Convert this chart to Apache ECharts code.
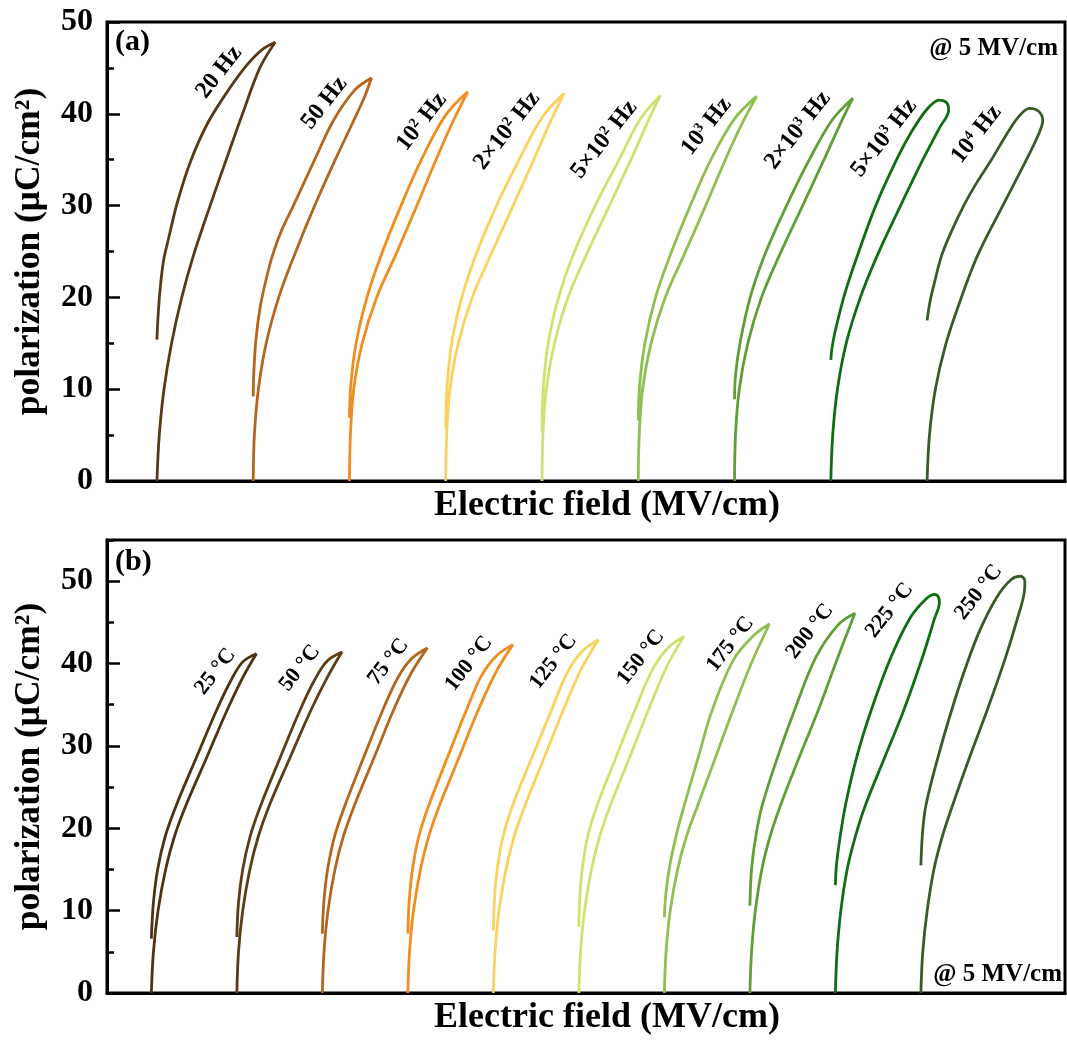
<!DOCTYPE html>
<html>
<head>
    <meta charset="UTF-8">
    <title>P-E loops</title>
    <style>
        html, body {
            margin: 0;
            padding: 0;
            background: #fff;
        }
        #main {
            width: 1067px;
            height: 1048px;
        }
    </style>
    <script src="https://cdn.jsdelivr.net/npm/echarts@6/dist/echarts.min.js"></script>
</head>
<body>
<div id="main"></div>
<script type="text/javascript">
    // loops: [E (MV/cm), P (uC/cm2)], charging branch up to the tip, then back down to Pr
    // (a) frequency, @ 5 MV/cm
    var f20 = [[0, 0], [0.1, 5], [0.3, 10], [0.62, 15], [1.05, 20], [1.55, 24.6], [2.25, 30], [2.93, 35], [3.62, 40], [4.35, 45], [5.0, 47.8],
        [4.45, 47.0], [3.8, 45.3], [3.0, 42.5], [2.15, 39], [1.45, 35], [0.88, 30.5], [0.5, 26.5], [0.28, 24], [0.14, 21], [0.05, 18], [0, 15.4]];
    var f50 = [[0, 0], [0.05, 5], [0.22, 10], [0.55, 15], [1.08, 20], [1.74, 24.6], [2.6, 30], [3.47, 35], [4.2, 39], [4.7, 41.8], [5.0, 43.9],
        [4.3, 42.6], [3.4, 39.3], [2.6, 35], [1.7, 30], [1.2, 27.3], [0.82, 24.6], [0.55, 22], [0.3, 19], [0.12, 15.5], [0.03, 12], [0, 9.2]];
    var f1e2 = [[0, 0], [0.04, 5], [0.18, 10], [0.54, 15], [1.15, 20], [1.95, 24.6], [2.85, 30], [3.66, 35], [4.4, 39.3], [5.0, 42.4],
        [4.05, 39.8], [3.04, 35], [2.18, 30], [1.34, 24.6], [0.74, 20], [0.28, 15], [0.06, 10.5], [0, 6.9]];
    var f2e2 = [[0, 0], [0.04, 5], [0.18, 10], [0.53, 15], [1.12, 20], [1.9, 24.6], [2.85, 30], [3.72, 35], [4.4, 39], [5.0, 42.2],
        [4.1, 39.7], [3.1, 35], [2.15, 30], [1.27, 24.6], [0.68, 20], [0.25, 15], [0.05, 10], [0, 5.7]];
    var f5e2 = [[0, 0], [0.04, 5], [0.18, 10], [0.53, 15], [1.1, 20], [1.87, 24.6], [2.85, 30], [3.76, 35], [4.45, 39], [5.0, 42.0],
        [4.15, 39.4], [3.26, 35], [2.25, 30], [1.31, 24.6], [0.7, 20], [0.26, 15], [0.05, 10], [0, 5.4]];
    var f1e3 = [[0, 0], [0.04, 5], [0.18, 10], [0.54, 15], [1.14, 20], [1.93, 24.6], [2.85, 30], [3.68, 35], [4.4, 39], [5.0, 41.9],
        [4.05, 39.4], [3.07, 35], [2.2, 30], [1.35, 24.6], [0.73, 20], [0.28, 15], [0.06, 10.5], [0, 6.6]];
    var f2e3 = [[0, 0], [0.04, 5], [0.2, 10], [0.56, 15], [1.14, 20], [1.9, 24.6], [2.88, 30], [3.78, 35], [4.45, 38.8], [5.0, 41.7],
        [4.12, 39.3], [3.16, 35], [2.2, 30], [1.27, 24.6], [0.66, 20], [0.23, 15], [0.04, 11.5], [0, 8.9]];
    var f5e3 = [[0, 0], [0.08, 5], [0.28, 10], [0.65, 15], [1.25, 20], [1.97, 24.6], [2.95, 30], [3.89, 35], [4.6, 38.5], [4.98, 40.4],
        [4.9, 41.2], [4.58, 41.5], [4.1, 40.6], [3.4, 38.0], [2.78, 35], [1.9, 30], [1.13, 24.6], [0.6, 20.5], [0.2, 16.5], [0.05, 14.5], [0, 13.2]];
    var f1e4 = [[0, 0], [0.1, 5], [0.35, 10], [0.8, 15], [1.45, 20], [2.14, 24.6], [3.2, 30], [4.2, 35], [4.75, 38], [4.89, 39.3],
        [4.7, 40.3], [4.33, 40.6], [4.1, 40.3], [3.75, 39.3], [3.3, 37.5], [2.72, 35], [2.1, 32.5], [1.55, 30], [1.05, 27.3], [0.62, 24.6],
        [0.3, 21.5], [0.12, 19.5], [0, 17.5]];

    // (b) temperature, @ 5 MV/cm
    var t25 = [[0, 0], [0.1, 5], [0.32, 10], [0.68, 15], [1.1, 19], [1.65, 22.8], [2.62, 28.5], [3.6, 34.3], [4.35, 38.3], [5.0, 41.2],
        [4.35, 40.2], [3.8, 38.0], [3.1, 34.3], [2.13, 28.5], [1.19, 22.8], [0.66, 19], [0.3, 15], [0.1, 11], [0, 6.6]];
    var t50 = [[0, 0], [0.08, 5], [0.28, 10], [0.62, 15], [1.02, 19], [1.55, 22.8], [2.52, 28.5], [3.52, 34.3], [4.3, 38.3], [5.0, 41.4],
        [4.3, 40.3], [3.7, 38.0], [3.0, 34.3], [2.05, 28.5], [1.14, 22.8], [0.63, 19], [0.28, 15], [0.08, 11], [0, 6.8]];
    var t75 = [[0, 0], [0.08, 5], [0.27, 10], [0.6, 15], [1.0, 19], [1.53, 22.8], [2.45, 28.5], [3.38, 34.3], [4.2, 38.7], [5.0, 41.9],
        [4.25, 40.6], [3.6, 38.3], [2.87, 34.3], [1.95, 28.5], [1.08, 22.8], [0.58, 19], [0.25, 15], [0.07, 11], [0, 7.2]];
    var t100 = [[0, 0], [0.08, 5], [0.27, 10], [0.6, 15], [0.99, 19], [1.51, 22.8], [2.42, 28.5], [3.34, 34.3], [4.2, 39.0], [5.0, 42.3],
        [4.2, 40.9], [3.5, 38.5], [2.78, 34.3], [1.87, 28.5], [1.0, 22.8], [0.52, 19], [0.22, 15], [0.06, 11], [0, 7.2]];
    var t125 = [[0, 0], [0.08, 5], [0.27, 10], [0.6, 15], [0.99, 19], [1.51, 22.8], [2.41, 28.5], [3.32, 34.3], [4.2, 39.4], [5.0, 42.9],
        [4.2, 41.4], [3.5, 38.8], [2.76, 34.3], [1.82, 28.5], [0.92, 22.8], [0.46, 19], [0.18, 15], [0.05, 11.2], [0, 7.6]];
    var t150 = [[0, 0], [0.08, 5], [0.27, 10], [0.6, 15], [0.99, 19], [1.5, 22.8], [2.4, 28.5], [3.3, 34.3], [4.2, 39.7], [5.0, 43.3],
        [4.2, 41.8], [3.45, 39.0], [2.66, 34.3], [1.75, 28.5], [0.87, 22.8], [0.42, 19], [0.16, 15], [0.04, 11.5], [0, 8.0]];
    var t175 = [[0, 0], [0.08, 5], [0.28, 10], [0.63, 15], [1.05, 19], [1.59, 22.8], [2.42, 28.5], [3.26, 34.3], [4.1, 39.8], [5.0, 44.8],
        [4.25, 43.4], [3.3, 40.5], [2.27, 34.3], [1.6, 28.5], [0.95, 22.8], [0.6, 19.5], [0.26, 15.5], [0.07, 12], [0, 9.2]];
    var t200 = [[0, 0], [0.08, 5], [0.26, 10], [0.57, 15], [0.96, 19], [1.46, 22.8], [2.33, 28.5], [3.25, 34.3], [4.15, 40.5], [5.0, 46.1],
        [4.2, 44.7], [3.15, 40.8], [2.12, 34.3], [1.3, 28.5], [0.59, 22.8], [0.28, 19], [0.08, 15], [0, 10.6]];
    var t225 = [[0, 0], [0.08, 5], [0.26, 10], [0.56, 15], [0.95, 19], [1.43, 22.8], [2.33, 28.5], [3.25, 34.3], [4.15, 40.8], [4.7, 45.3],
        [4.95, 47.4], [4.9, 48.1], [4.72, 48.4], [4.3, 47.8], [3.55, 45.5], [2.6, 40.5], [1.7, 34.3], [1.0, 28.5], [0.48, 22.8], [0.2, 18.5], [0.05, 15.5], [0, 13.1]];
    var t250 = [[0, 0], [0.09, 5], [0.3, 10], [0.62, 15], [1.02, 19], [1.51, 22.8], [2.3, 28.5], [3.15, 34.3], [4.0, 40.5], [4.6, 45.5],
        [4.93, 48.8], [4.95, 50.0], [4.75, 50.6], [4.3, 50.2], [3.6, 48.0], [2.8, 44.0], [2.1, 39.3], [1.46, 34.3], [0.8, 28.5], [0.24, 22.8], [0.08, 19.5], [0, 15.5]];

    var freqLoops = [f20, f50, f1e2, f2e2, f5e2, f1e3, f2e3, f5e3, f1e4];
    var freqNames = ['20 Hz', '50 Hz', '10^2 Hz', '2×10^2 Hz', '5×10^2 Hz', '10^3 Hz', '2×10^3 Hz', '5×10^3 Hz', '10^4 Hz'];
    var tempLoops = [t25, t50, t75, t100, t125, t150, t175, t200, t225, t250];
    var tempNames = ['25 °C', '50 °C', '75 °C', '100 °C', '125 °C', '150 °C', '175 °C', '200 °C', '225 °C', '250 °C'];
    var yTicksA = [0, 50];
    var yTicksB = [0, 55];

    // each loop is shifted along the field axis
    var loopStart = 2.11;
    var loopStep = 4.07;

    var colorsA = ['#5a3a14', '#b4651e', '#f08d1f', '#f9d35e', '#cfe270', '#8fbf50', '#5e9f36', '#0f6e14', '#3a5a29'];
    var colorsB = ['#4e3312', '#5c3d15', '#b4651e', '#f08d1f', '#f9d35e', '#cfe270', '#8fbf50', '#5e9f36', '#0f6e14', '#3a5a29'];
    // label centre relative to loop tip, pixels
    var labelOffA = [[-56, 30], [-47, 25], [-46, 30], [-57, 37], [-56, 44], [-50, 30], [-55, 32], [-55, 38], [-53, 26]];
    var labelOffB = [[-41, 18], [-42, 16], [-39, 14], [-44, 19], [-45, 22], [-43, 21], [-39, 20], [-45, 18], [-45, 16], [-42, 16]];

    var FONT = '"Times New Roman", "Liberation Serif", serif';

    function shifted(loop, i) {
        var x0 = loopStart + i * loopStep;
        return loop.map(function (p) {
            return [x0 + p[0], p[1]];
        });
    }

    function topPoint(loop) {
        var t = loop[0];
        loop.forEach(function (p) {
            if (p[1] > t[1]) t = p;
        });
        return t;
    }

    function makeX(grid, max) {
        return {
            gridIndex: grid,
            type: 'value',
            min: 0,
            max: max,
            axisLine: {show: true, onZero: false, lineStyle: {color: '#000', width: 3}},
            axisTick: {show: false},
            axisLabel: {show: false},
            splitLine: {show: false},
            name: 'Electric field (MV/cm)',
            nameLocation: 'middle',
            nameGap: 7,
            nameTextStyle: {
                color: '#000', fontFamily: FONT, fontWeight: 'bold', fontSize: 36,
                padding: [0, 0, 0, 42]
            }
        };
    }

    function makeY(grid, ticks) {
        return {
            gridIndex: grid,
            type: 'value',
            position: 'left',
            min: ticks[0],
            max: ticks[1],
            interval: 10,
            axisLine: {show: true, onZero: false, lineStyle: {color: '#000', width: 3}},
            axisTick: {show: true, inside: true, length: 13, lineStyle: {color: '#000', width: 2.5}},
            axisLabel: {
                color: '#000', fontFamily: FONT, fontWeight: 'bold', fontSize: 32, margin: 14,
                showMaxLabel: ticks[1] % 10 === 0
            },
            splitLine: {show: false},
            name: 'polarization (μC/cm²)',
            nameLocation: 'middle',
            nameGap: 59,
            nameTextStyle: {color: '#000', fontFamily: FONT, fontWeight: 'bold', fontSize: 35.5}
        };
    }

    // second axis only for the short ticks every 5
    function makeMinorY(grid, ticks) {
        return {
            gridIndex: grid,
            type: 'value',
            position: 'left',
            min: ticks[0],
            max: ticks[1],
            interval: 5,
            axisLine: {show: false},
            axisTick: {show: true, inside: true, length: 7, lineStyle: {color: '#000', width: 2.5}},
            axisLabel: {show: false},
            splitLine: {show: false}
        };
    }

    var series = [];
    freqLoops.forEach(function (loop, i) {
        series.push({
            name: freqNames[i],
            type: 'line',
            xAxisIndex: 0,
            yAxisIndex: 0,
            data: shifted(loop, i),
            showSymbol: false,
            symbol: 'none',
            smooth: 0.35,
            silent: true,
            lineStyle: {color: colorsA[i], width: 2.8},
            itemStyle: {color: colorsA[i]}
        });
    });
    tempLoops.forEach(function (loop, i) {
        series.push({
            name: tempNames[i],
            type: 'line',
            xAxisIndex: 1,
            yAxisIndex: 2,
            data: shifted(loop, i),
            showSymbol: false,
            symbol: 'none',
            smooth: 0.35,
            silent: true,
            lineStyle: {color: colorsB[i], width: 2.8},
            itemStyle: {color: colorsB[i]}
        });
    });

    var myChart = echarts.init(document.getElementById('main'), null, {renderer: 'canvas'});
    var option = {
        animation: false,
        backgroundColor: '#fff',
        grid: [
            {left: 107, right: 2, top: 22, height: 459, show: true, borderColor: '#000', borderWidth: 3},
            {left: 107, right: 2, top: 540, height: 453, show: true, borderColor: '#000', borderWidth: 3}
        ],
        xAxis: [makeX(0, 40.5), makeX(1, 45.6)],
        yAxis: [makeY(0, yTicksA), makeMinorY(0, yTicksA), makeY(1, yTicksB), makeMinorY(1, yTicksB)],
        series: series
    };
    myChart.setOption(option);

    function supText(s) {
        return s.replace(/\^(\d)/g, '{s|$1}');
    }

    function loopLabel(text, pos, size, rot) {
        return {
            type: 'text',
            x: pos[0],
            y: pos[1],
            rotation: rot * Math.PI / 180,
            silent: true,
            z: 10,
            style: {
                text: supText(text),
                fill: '#000',
                font: 'bold ' + size + 'px ' + FONT,
                align: 'center',
                verticalAlign: 'middle',
                textAlign: 'center',
                textVerticalAlign: 'middle',
                rich: {
                    s: {
                        fill: '#000',
                        fontFamily: FONT,
                        fontWeight: 'bold',
                        fontSize: Math.round(size * 0.6),
                        verticalAlign: 'top'
                    }
                }
            }
        };
    }

    function plainText(text, x, y, size, align) {
        return {
            type: 'text',
            x: x,
            y: y,
            silent: true,
            z: 10,
            style: {
                text: text,
                fill: '#000',
                font: 'bold ' + size + 'px ' + FONT,
                align: align,
                verticalAlign: 'middle',
                textAlign: align,
                textVerticalAlign: 'middle'
            }
        };
    }

    var elements = [];
    freqLoops.forEach(function (loop, i) {
        var t = topPoint(shifted(loop, i));
        var p = myChart.convertToPixel({xAxisIndex: 0, yAxisIndex: 0}, t);
        elements.push(loopLabel(freqNames[i], [p[0] + labelOffA[i][0], p[1] + labelOffA[i][1]], 24, 52));
    });
    tempLoops.forEach(function (loop, i) {
        var t = topPoint(shifted(loop, i));
        var p = myChart.convertToPixel({xAxisIndex: 1, yAxisIndex: 2}, t);
        elements.push(loopLabel(tempNames[i], [p[0] + labelOffB[i][0], p[1] + labelOffB[i][1]], 22, 52));
    });
    elements.push(plainText('(a)', 115, 42, 30, 'left'));
    elements.push(plainText('(b)', 115, 562, 30, 'left'));
    elements.push(plainText('@ 5 MV/cm', 1058, 49, 25, 'right'));
    elements.push(plainText('@ 5 MV/cm', 1062, 975, 25, 'right'));

    myChart.setOption({graphic: {elements: elements}});
</script>
</body>
</html>
